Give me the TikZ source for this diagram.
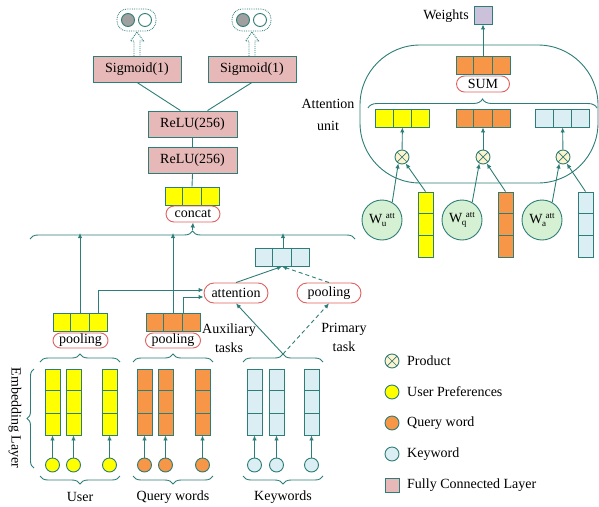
\documentclass[tikz,border=0pt]{standalone}
\usepackage{fontspec}
\setmainfont{Liberation Serif}
\usetikzlibrary{arrows.meta,calc,decorations.pathreplacing,shapes.misc}
\definecolor{tl}{RGB}{45,125,120}
\definecolor{fcpink}{RGB}{230,185,184}
\definecolor{qor}{RGB}{247,150,70}
\definecolor{kbl}{RGB}{218,238,243}
\definecolor{uyl}{RGB}{255,255,0}
\definecolor{rbred}{RGB}{224,96,96}
\definecolor{wgr}{RGB}{213,240,210}
\definecolor{prd}{RGB}{255,242,204}
\definecolor{wpur}{RGB}{204,193,218}
\definecolor{outgray}{RGB}{160,160,160}
\newcommand\myhvec[4]{%
  \node[hv,fill=#4] (#1) at (#2,#3) {};
  \draw[ln] ($(#1.north west)!1/3!(#1.north east)$) -- ($(#1.south west)!1/3!(#1.south east)$)
            ($(#1.north west)!2/3!(#1.north east)$) -- ($(#1.south west)!2/3!(#1.south east)$);}
\newcommand\myvvec[4]{%
  \node[vv,fill=#4] (#1) at (#2,#3) {};
  \draw[ln] ($(#1.north west)!1/3!(#1.south west)$) -- ($(#1.north east)!1/3!(#1.south east)$)
            ($(#1.north west)!2/3!(#1.south west)$) -- ($(#1.north east)!2/3!(#1.south east)$);}
\newcommand\myblockarrow[3]{%
  \draw[tl,densely dotted,line width=0.9pt] (#1-3,#2) -- (#1-3,#3+9) -- (#1-6.5,#3+9) -- (#1,#3) -- (#1+6.5,#3+9) -- (#1+3,#3+9) -- (#1+3,#2);}
\newcommand\wlabel[1]{W\kern-0.5pt\raisebox{-3.5pt}{\fontsize{9}{9}\selectfont #1}\kern-0.5pt\raisebox{5pt}{\fontsize{9}{9}\selectfont att}}
\begin{document}
\begin{tikzpicture}[x=1pt,y=-1pt,
  ln/.style={draw=tl,line width=0.9pt},
  arr/.style={ln,-{Latex[length=5pt,width=4.5pt]}},
  darr/.style={arr,dash pattern=on 4pt off 3pt},
  txt/.style={font=\fontsize{14}{16}\selectfont,inner sep=0},
  fc/.style={draw=tl,line width=0.9pt,fill=fcpink,minimum width=88pt,minimum height=26pt,inner sep=0,font=\fontsize{14}{16}\selectfont},
  rb/.style={rounded rectangle,draw=rbred,line width=0.9pt,fill=white,inner sep=0,font=\fontsize{14}{16}\selectfont},
  hv/.style={draw=tl,line width=0.9pt,minimum width=54pt,minimum height=18pt,inner sep=0},
  vv/.style={draw=tl,line width=0.9pt,minimum width=15pt,minimum height=66pt,inner sep=0},
  dot/.style={circle,draw=tl,line width=0.9pt,minimum size=14pt,inner sep=0},
  prod/.style={dot,fill=prd,path picture={\draw[tl,line width=0.7pt] (path picture bounding box.north west) -- (path picture bounding box.south east) (path picture bounding box.north east) -- (path picture bounding box.south west);}},
  wc/.style={circle,draw=tl,line width=0.9pt,fill=wgr,minimum size=40pt,inner sep=0,font=\fontsize{14}{16}\selectfont},
  brc/.style={ln,decorate,decoration={brace,amplitude=8pt}},
]
\useasboundingbox (0,0) rectangle (599,506);

% ---------- top: outputs ----------
\node[dot,fill=outgray,minimum size=13pt] (o1a) at (128,20) {};
\node[dot,minimum size=13pt] (o1b) at (145,20) {};
\draw[tl,densely dotted,line width=0.8pt,rounded corners=10pt] (117,9) rectangle (156,31);
\node[dot,fill=outgray,minimum size=13pt] (o2a) at (243,20) {};
\node[dot,minimum size=13pt] (o2b) at (260,20) {};
\draw[tl,densely dotted,line width=0.8pt,rounded corners=10pt] (232,9) rectangle (271,31);

\node[fc] (s1) at (137,69) {Sigmoid(1)};
\node[fc] (s2) at (252,69) {Sigmoid(1)};
\myblockarrow{137}{56}{32}
\myblockarrow{252}{56}{32}

\node[fc,minimum width=89pt] (r1) at (192.5,124) {ReLU(256)};
\node[fc,minimum width=89pt] (r2) at (192.5,160) {ReLU(256)};
\draw[ln] (s1.south) -- ($(r1.north)+(-12,0)$);
\draw[ln] (s2.south) -- ($(r1.north)+(15,0)$);
\draw[ln] (r1.south) -- (r2.north);

\myhvec{cv}{192}{196}{uyl}
\node[rb,minimum width=54pt,minimum height=16pt] (cb) at (193,214) {concat};
\draw[ln] (r2.south) -- (cv.north);

\draw[brc] (30,239) -- (355,239);
\coordinate (bt) at (192.5,230);
\draw[arr] (bt) -- (cb.south);

% ---------- attention unit ----------
\draw[ln,rounded corners=60pt] (360,45) rectangle (598,183);
\node[draw=tl,line width=0.9pt,fill=wpur,minimum size=18pt,inner sep=0] (wb) at (483,15) {};
\node[txt,anchor=east] (wl) at (469,16) {Weights};
\myhvec{sv}{483}{65.5}{qor}
\node[rb,minimum width=53pt,minimum height=16pt] (sb) at (483,84) {SUM};
\draw[arr] (sv.north) -- (wb.south);
\draw[ln,decorate,decoration={brace,amplitude=9pt}] (368,108) -- (597,108);
\node[txt,align=center,font=\fontsize{14}{22}\selectfont] (au) at (328,115) {Attention\\unit};

\myhvec{ay}{402.5}{118}{uyl}
\myhvec{aq}{483}{118}{qor}
\myhvec{ak}{562.5}{118}{kbl}
\node[prod] (p1) at (402,157) {};
\node[prod] (p2) at (483,157) {};
\node[prod] (p3) at (563,157) {};
\draw[arr] (p1) -- (ay);
\draw[arr] (p2) -- (aq);
\draw[arr] (p3) -- (ak);

\node[wc] (wu) at (382,220) {\wlabel{u}};
\node[wc] (wq) at (462,220) {\wlabel{q}};
\node[wc] (wa) at (542,220) {\wlabel{a}};
\node[vv,minimum height=65pt,fill=uyl] (vu) at (425.5,224.5) {};
\node[vv,minimum height=65pt,fill=qor] (vq) at (505.5,224.5) {};
\node[vv,minimum height=65pt,fill=kbl] (vk) at (585.5,224.5) {};
\foreach \v in {vu,vq,vk}{
  \draw[ln] ($(\v.north west)!1/3!(\v.south west)$) -- ($(\v.north east)!1/3!(\v.south east)$)
            ($(\v.north west)!2/3!(\v.south west)$) -- ($(\v.north east)!2/3!(\v.south east)$);}
\draw[arr] (wu.60) -- (p1.240);
\draw[arr] (vu.north) -- (p1.300);
\draw[arr] (wq.60) -- (p2.240);
\draw[arr] (vq.north) -- (p2.300);
\draw[arr] (wa.60) -- (p3.240);
\draw[arr] (vk.north) -- (p3.300);

% ---------- lower left ----------
\myhvec{uv}{80}{322.5}{uyl}
\myhvec{qv}{173}{322.5}{qor}
\node[rb,minimum width=55pt,minimum height=15pt] (up) at (80.5,340.5) {pooling};
\node[rb,minimum width=55pt,minimum height=15pt] (qp) at (173,340.5) {pooling};
\node[rb,minimum width=64pt,minimum height=20pt] (att) at (236,293) {attention};
\node[rb,minimum width=64pt,minimum height=20pt] (kp) at (329,293) {pooling};
\myhvec{kv}{282}{257}{kbl}

\coordinate (bu) at (80,233);
\coordinate (bq) at (173,233);
\coordinate (bk) at (283,233);
\draw[arr] (uv.north) -- (bu);
\draw[arr] (qv.north) -- (bq);
\draw[arr] (kv.north -| bk) -- (bk);
\draw[arr] ($(uv.north)+(18,0)$) |- ($(att.west)+(0,-3)$);
\draw[arr] ($(qv.north)+(10,0)$) |- ($(att.west)+(0,4)$);
\draw[arr] (att.north) -- (kv.south);
\draw[darr] (kp.north) -- (kv.south);

\node[txt,align=center,font=\fontsize{14}{19}\selectfont] (aux) at (229,338) {Auxiliary\\tasks};
\node[txt,align=center,font=\fontsize{14}{19}\selectfont] (pri) at (344,337) {Primary\\task};

\draw[brc] (40,362) -- (120,362);
\draw[brc] (133,362) -- (213,362);
\draw[brc] (243,362) -- (323,362);
\coordinate (kt) at (283,354);
\draw[arr] (kt) -- (att.south);
\draw[darr] (kt) -- (kp.south);

\draw[ln,decorate,decoration={brace,amplitude=7pt}] (34,468) -- (34,369);
\node[txt,rotate=-90] (emb) at (15,418) {Embedding Layer};

\myvvec{u1}{52.5}{402}{uyl}
\myvvec{u2}{73.5}{402}{uyl}
\myvvec{u3}{109.5}{402}{uyl}
\myvvec{q1}{144.5}{402}{qor}
\myvvec{q2}{165.5}{402}{qor}
\myvvec{q3}{202.5}{402}{qor}
\myvvec{k1}{254.5}{402}{kbl}
\myvvec{k2}{276.5}{402}{kbl}
\myvvec{k3}{311.5}{402}{kbl}
\foreach \n/\x/\c in {u1/52.5/uyl,u2/73.5/uyl,u3/109.5/uyl,q1/144.5/qor,q2/165.5/qor,q3/202.5/qor,k1/254.5/kbl,k2/276.5/kbl,k3/311.5/kbl}{
  \node[dot,fill=\c] (c\n) at (\x,465) {};
  \draw[arr] (c\n) -- (\n);}

\draw[brc] (120,476) -- (40,476);
\draw[brc] (213,476) -- (133,476);
\draw[brc] (323,476) -- (243,476);
\node[txt] (lu) at (80,497) {User};
\node[txt] (lq) at (173,497) {Query words};
\node[txt] (lk) at (283,497) {Keywords};

% ---------- legend ----------
\node[prod] (lg1) at (392,361) {};
\node[txt,anchor=west] (lt1) at (407,361) {Product};
\node[dot,fill=uyl] (lg2) at (392,392) {};
\node[txt,anchor=west] (lt2) at (407,392) {User Preferences};
\node[dot,fill=qor] (lg3) at (392,423) {};
\node[txt,anchor=west] (lt3) at (407,423) {Query word};
\node[dot,fill=kbl] (lg4) at (392,454) {};
\node[txt,anchor=west] (lt4) at (407,454) {Keyword};
\node[draw=tl,line width=0.9pt,fill=fcpink,minimum size=14pt,inner sep=0] (lg5) at (392,485) {};
\node[txt,anchor=west] (lt5) at (407,485) {Fully Connected Layer};
\end{tikzpicture}
\end{document}
